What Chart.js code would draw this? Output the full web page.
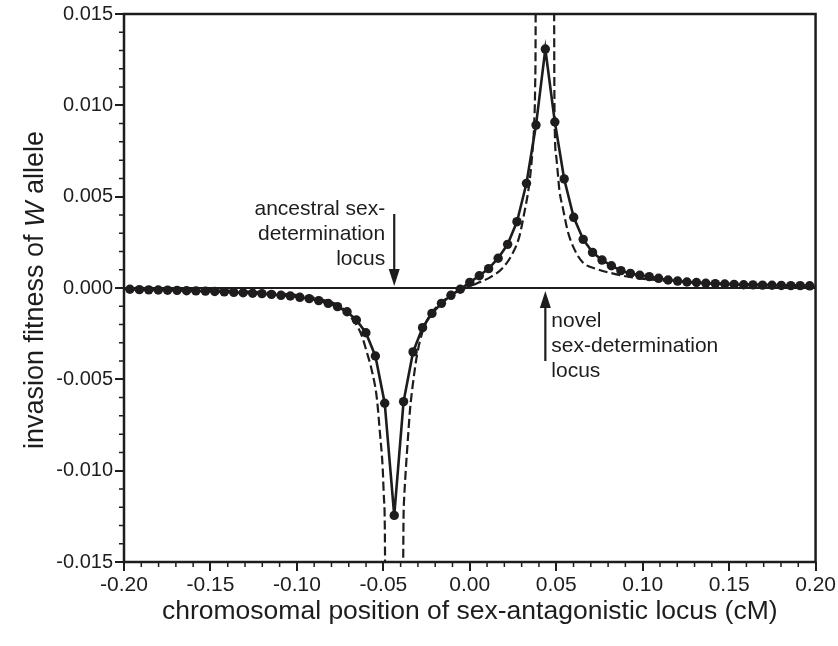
<!DOCTYPE html>
<html>
<head>
<meta charset="utf-8">
<script src="https://cdn.jsdelivr.net/npm/chart.js@4.4.1/dist/chart.umd.min.js"></script>
<style>
  body { margin: 0; background: #fff; }
  #wrap { width: 838px; height: 646px; }
</style>
</head>
<body>
<div id="wrap"><canvas id="fit"></canvas></div>
<script>
// positions of the simulated points (cM)
const simX = [
  -0.1966, -0.1911, -0.1857, -0.1802, -0.1748, -0.1693, -0.1638, -0.1584, -0.1529, -0.1475,
  -0.1420, -0.1365, -0.1311, -0.1256, -0.1202, -0.1147, -0.1092, -0.1038, -0.0983, -0.0929,
  -0.0874, -0.0819, -0.0765, -0.0710, -0.0656, -0.0601, -0.0546, -0.0492, -0.0437, -0.0383,
  -0.0328, -0.0273, -0.0219, -0.0164, -0.0109, -0.0055, 0.0000, 0.0055, 0.0109, 0.0164,
  0.0219, 0.0273, 0.0328, 0.0383, 0.0437, 0.0492, 0.0546, 0.0601, 0.0656, 0.0710,
  0.0765, 0.0819, 0.0874, 0.0929, 0.0983, 0.1038, 0.1092, 0.1147, 0.1202, 0.1256,
  0.1311, 0.1365, 0.1420, 0.1475, 0.1529, 0.1584, 0.1638, 0.1693, 0.1748, 0.1802,
  0.1857, 0.1911, 0.1966
];
// invasion fitness, simulation (solid line with dots)
const simY = [
  -0.00007, -0.00009, -0.00010, -0.00011, -0.00012, -0.00013, -0.00015, -0.00016, -0.00017, -0.00019,
  -0.00021, -0.00024, -0.00026, -0.00029, -0.00031, -0.00035, -0.00040, -0.00044, -0.00051, -0.00058,
  -0.00069, -0.00084, -0.00102, -0.00130, -0.00175, -0.00245, -0.00372, -0.00631, -0.01245, -0.00622,
  -0.00350, -0.00217, -0.00139, -0.00084, -0.00040, -0.00007, 0.00031, 0.00067, 0.00106, 0.00163,
  0.00239, 0.00363, 0.00573, 0.00892, 0.01308, 0.00909, 0.00597, 0.00387, 0.00266, 0.00195,
  0.00153, 0.00122, 0.00095, 0.00080, 0.00070, 0.00062, 0.00053, 0.00044, 0.00038, 0.00033,
  0.00030, 0.00026, 0.00024, 0.00022, 0.00020, 0.00018, 0.00017, 0.00016, 0.00015, 0.00014,
  0.00013, 0.00013, 0.00012
];
// analytical approximation (dashed)
const approxX = [
  -0.2, -0.16, -0.13, -0.11, -0.095, -0.085, -0.075, -0.0692, -0.0664, -0.0625,
  -0.0596, -0.0567, -0.0538, -0.0519, -0.0504, -0.0496, -0.049, -0.0488, -0.0387, -0.0385,
  -0.038, -0.0369, -0.0356, -0.0346, -0.0327, -0.0304, -0.027, -0.0231, -0.0173, -0.0096,
  -0.002, 0.004, 0.0115, 0.019, 0.0248, 0.0286, 0.0315, 0.0344, 0.0361, 0.0372,
  0.0378, 0.0381, 0.0383, 0.0486, 0.0488, 0.0491, 0.050, 0.0509, 0.0519, 0.0538,
  0.0567, 0.0606, 0.0654, 0.0731, 0.0825, 0.094, 0.11, 0.13, 0.16, 0.2
];
const approxY = [
  -0.00005, -0.0001, -0.00018, -0.0003, -0.00045, -0.00065, -0.001, -0.00156, -0.00189, -0.0026,
  -0.0035, -0.0045, -0.006, -0.008, -0.0098, -0.0116, -0.015, -0.03, -0.03, -0.015,
  -0.0116, -0.0098, -0.008, -0.0067, -0.0051, -0.0036, -0.0023, -0.0015, -0.00087, -0.00032,
  0.00002, 0.00025, 0.00057, 0.0011, 0.0019, 0.0028, 0.0041, 0.0057, 0.0073, 0.0089,
  0.011, 0.015, 0.03, 0.03, 0.015, 0.009, 0.0072, 0.0063, 0.0053, 0.0044,
  0.0031, 0.0021, 0.0014, 0.00105, 0.0008, 0.00058, 0.00042, 0.0003, 0.0002, 0.00012
];
// the two marked loci (cM)
const ancestralLocus = -0.0437;
const novelLocus = 0.0437;
const ancestralText = ['ancestral sex-', 'determination', 'locus'];
const novelText = ['novel', 'sex-determination', 'locus'];

const ink = '#1e1c1d';
const fontFamily = '"Liberation Sans", Arial, Helvetica, sans-serif';

function pairs(xs, ys) {
  return xs.map((x, i) => ({ x: x, y: ys[i] }));
}

function arrow(ctx, x, yTail, yTip, headLen, headHalf) {
  const dir = yTip > yTail ? 1 : -1;
  ctx.beginPath();
  ctx.moveTo(x, yTail);
  ctx.lineTo(x, yTip - dir * headLen);
  ctx.stroke();
  ctx.beginPath();
  ctx.moveTo(x, yTip);
  ctx.lineTo(x - headHalf, yTip - dir * headLen);
  ctx.lineTo(x + headHalf, yTip - dir * headLen);
  ctx.closePath();
  ctx.fill();
}

const decorations = {
  id: 'decorations',
  afterDraw(chart) {
    const { ctx, chartArea: a, scales: { x, y } } = chart;
    ctx.save();
    ctx.strokeStyle = ink;
    ctx.fillStyle = ink;

    // frame
    ctx.lineWidth = 2.5;
    ctx.strokeRect(a.left, a.top, a.right - a.left, a.bottom - a.top);

    // minor ticks
    ctx.lineWidth = 1.5;
    ctx.beginPath();
    for (let v = -15; v <= 15; v++) {
      if (v % 5 === 0) continue;
      const py = y.getPixelForValue(v / 1000);
      ctx.moveTo(a.left - 5, py);
      ctx.lineTo(a.left, py);
    }
    for (let v = -20; v <= 20; v++) {
      if (v % 5 === 0) continue;
      const px = x.getPixelForValue(v / 100);
      ctx.moveTo(px, a.bottom);
      ctx.lineTo(px, a.bottom + 5);
    }
    ctx.stroke();

    // arrows
    const y0 = y.getPixelForValue(0);
    ctx.lineWidth = 2.2;
    const ax = x.getPixelForValue(ancestralLocus);
    arrow(ctx, ax, y0 - 74, y0 - 2, 17, 5.5);
    const nx = x.getPixelForValue(novelLocus);
    arrow(ctx, nx, y0 + 73, y0 + 3, 17, 5.5);

    // notes
    ctx.font = '21px ' + fontFamily;
    ctx.textBaseline = 'middle';
    ctx.textAlign = 'right';
    ancestralText.forEach((t, i) => ctx.fillText(t, ax - 9, y0 - 79 + i * 25));
    ctx.textAlign = 'left';
    novelText.forEach((t, i) => ctx.fillText(t, nx + 6, y0 + 33 + i * 25));

    // axis titles
    ctx.font = '26.5px ' + fontFamily;
    ctx.textAlign = 'center';
    ctx.fillText('chromosomal position of sex-antagonistic locus (cM)', (a.left + a.right) / 2, 612);

    ctx.translate(36, 290);
    ctx.rotate(-Math.PI / 2);
    const parts = [
      ['invasion fitness of ', 'normal'],
      ['W', 'italic'],
      [' allele', 'normal']
    ];
    let total = 0;
    parts.forEach(p => {
      ctx.font = p[1] + ' 27px ' + fontFamily;
      total += ctx.measureText(p[0]).width;
    });
    let cx = -total / 2;
    ctx.textAlign = 'left';
    parts.forEach(p => {
      ctx.font = p[1] + ' 27px ' + fontFamily;
      ctx.fillText(p[0], cx, 0);
      cx += ctx.measureText(p[0]).width;
    });
    ctx.restore();
  }
};

const chart = new Chart(document.getElementById('fit'), {
  type: 'line',
  data: {
    datasets: [{
      label: 'simulation',
      data: pairs(simX, simY),
      borderColor: ink,
      backgroundColor: ink,
      borderWidth: 2.6,
      pointRadius: 4.7,
      pointBorderWidth: 0,
      tension: 0,
      order: 1
    }, {
      label: 'approximation',
      data: pairs(approxX, approxY),
      borderColor: ink,
      borderWidth: 2.2,
      borderDash: [9, 4],
      pointRadius: 0,
      cubicInterpolationMode: 'monotone',
      order: 2
    }, {
      label: 'zero',
      data: [{ x: -0.2, y: 0 }, { x: 0.2, y: 0 }],
      borderColor: ink,
      borderWidth: 2,
      pointRadius: 0,
      order: 3
    }]
  },
  options: {
    responsive: true,
    maintainAspectRatio: false,
    animation: false,
    layout: { padding: { top: 14, right: 22, left: 0, bottom: 0 } },
    plugins: { legend: { display: false }, tooltip: { enabled: false } },
    scales: {
      x: {
        type: 'linear',
        min: -0.2,
        max: 0.2,
        afterFit: s => { s.height = 84; },
        border: { display: false },
        grid: { drawOnChartArea: false, tickLength: 9, color: ink, lineWidth: 2 },
        ticks: {
          stepSize: 0.05,
          padding: 2,
          color: ink,
          font: { family: fontFamily, size: 21 },
          maxRotation: 0,
          callback: v => (Math.abs(v) < 1e-9 ? 0 : v).toFixed(2)
        }
      },
      y: {
        min: -0.015,
        max: 0.015,
        afterFit: s => { s.width = 124; },
        border: { display: false },
        grid: { drawOnChartArea: false, tickLength: 9, color: ink, lineWidth: 2 },
        ticks: {
          stepSize: 0.005,
          padding: 2,
          color: ink,
          font: { family: fontFamily, size: 20 },
          callback: v => (Math.abs(v) < 1e-9 ? 0 : v).toFixed(3)
        }
      }
    }
  },
  plugins: [decorations]
});
</script>
</body>
</html>
